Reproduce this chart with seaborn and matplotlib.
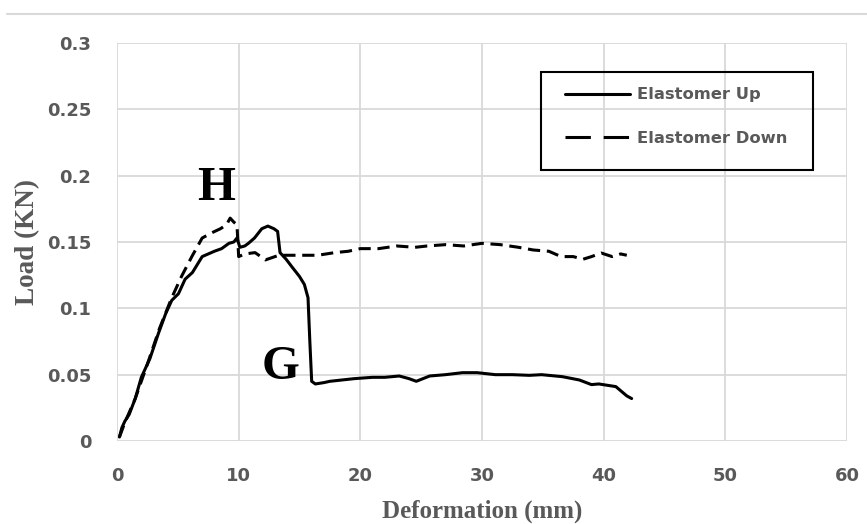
import numpy as np
import pandas as pd
import matplotlib
matplotlib.use("Agg")
import matplotlib.pyplot as plt
import seaborn as sns
from matplotlib.lines import Line2D
from matplotlib.patches import Rectangle

# ---- data ----
up_x = [0.2, 0.4, 0.65, 1.0, 1.5, 2.0, 2.7, 3.4, 4.0, 4.5, 5.05, 5.6, 6.2, 7.0, 7.5, 8.0,
        8.6, 9.2, 9.6, 9.86, 10.1, 10.5, 10.8, 11.3, 11.9, 12.4, 12.9, 13.2, 13.4, 13.9,
        14.4, 15.0, 15.4, 15.7, 15.85, 16.0, 16.3, 17.0, 17.5, 18.5, 19.5, 21.0, 22.0,
        23.2, 24.0, 24.6, 25.7, 27.0, 28.4, 29.6, 31.1, 32.5, 33.9, 34.9, 36.6, 38.0,
        39.0, 39.6, 40.3, 41.0, 41.9, 42.3]
up_y = [0.003, 0.010, 0.015, 0.020, 0.032, 0.048, 0.062, 0.081, 0.096, 0.106, 0.111,
        0.122, 0.127, 0.139, 0.141, 0.143, 0.145, 0.149, 0.150, 0.153, 0.146, 0.147,
        0.149, 0.153, 0.160, 0.162, 0.160, 0.158, 0.142, 0.137, 0.131, 0.124, 0.118,
        0.108, 0.075, 0.045, 0.043, 0.044, 0.045, 0.046, 0.047, 0.048, 0.048, 0.049,
        0.047, 0.045, 0.049, 0.050, 0.0515, 0.0515, 0.050, 0.050, 0.0495, 0.050, 0.0485,
        0.046, 0.0425, 0.043, 0.042, 0.041, 0.034, 0.032]

down_x = [0.2, 0.65, 1.5, 2.5, 3.5, 4.5, 5.3, 6.15, 7.0, 7.8, 8.5, 9.0, 9.3, 9.6, 9.86,
          10.0, 10.5, 11.35, 12.2, 13.3, 14.5, 15.2, 16.5, 17.9, 19.0, 20.0, 21.5, 23.0,
          24.5, 25.5, 27.0, 28.5, 30.0, 31.5, 33.0, 34.2, 35.5, 36.5, 37.5, 38.3, 39.0,
          39.8, 40.7, 41.4, 41.9]
down_y = [0.003, 0.014, 0.032, 0.058, 0.085, 0.108, 0.124, 0.139, 0.153, 0.157, 0.160,
          0.163, 0.168, 0.165, 0.163, 0.139, 0.141, 0.142, 0.1365, 0.140, 0.140, 0.140,
          0.140, 0.142, 0.143, 0.145, 0.145, 0.147, 0.146, 0.147, 0.148, 0.147, 0.149,
          0.148, 0.146, 0.144, 0.143, 0.139, 0.139, 0.137, 0.139, 0.1417, 0.139, 0.141,
          0.140]

series_names = ["Elastomer Up", "Elastomer Down"]
x_ticks = [0, 10, 20, 30, 40, 50, 60]
y_ticks = [0, 0.05, 0.1, 0.15, 0.2, 0.25, 0.3]
y_tick_labels = ["0", "0.05", "0.1", "0.15", "0.2", "0.25", "0.3"]

df = pd.concat([
    pd.DataFrame({"x": up_x, "y": up_y, "s": series_names[0]}),
    pd.DataFrame({"x": down_x, "y": down_y, "s": series_names[1]}),
])

sns.set_theme(style="white")
plt.rcParams["font.family"] = ["DejaVu Sans"]
W, H = 867, 524
fig = plt.figure(figsize=(W / 100, H / 100), dpi=100)
ax = fig.add_axes([117 / W, 1 - 441 / H, 730 / W, 398 / H])

gray_grid = "#d9d9d9"
for t in x_ticks:
    ax.axvline(t, color=gray_grid, lw=1.3, zorder=0)
for t in y_ticks:
    ax.axhline(t, color=gray_grid, lw=1.3, zorder=0)

lw = 2.2
sns.lineplot(data=df[df.s == series_names[0]], x="x", y="y", sort=False, estimator=None,
             color="black", lw=lw, ax=ax, legend=False)
sns.lineplot(data=df[df.s == series_names[1]], x="x", y="y", sort=False, estimator=None,
             color="black", lw=lw, ax=ax, legend=False)
ax.lines[-1].set_dashes([4.0, 2.2])

ax.set_xlim(0, 60)
ax.set_ylim(0, 0.3)
for sp in ax.spines.values():
    sp.set_visible(False)
ax.set_xticks(x_ticks)
ax.set_yticks(y_ticks)
ax.set_yticklabels(y_tick_labels)
tick_col = "#595959"
ax.tick_params(axis="both", length=0, labelsize=13, labelcolor=tick_col)
for lab in ax.get_xticklabels() + ax.get_yticklabels():
    lab.set_fontweight("bold")
ax.tick_params(axis="x", pad=19)
ax.tick_params(axis="y", pad=18.5)

ax.set_xlabel("Deformation (mm)", family="Liberation Serif", fontweight="bold",
              fontsize=18, color=tick_col, labelpad=10)
ax.set_ylabel("Load (KN)", family="Liberation Serif", fontweight="bold",
              fontsize=19.5, color=tick_col, labelpad=5)

ax.text(8.15, 0.191, "H", family="Liberation Serif", fontweight="bold", fontsize=35,
        ha="center", va="center", color="black")
ax.text(13.45, 0.056, "G", family="Liberation Serif", fontweight="bold", fontsize=35,
        ha="center", va="center", color="black")

# legend frame
fig.add_artist(Rectangle((541 / W, 1 - 170 / H), 272 / W, 98 / H, transform=fig.transFigure,
                         fill=False, edgecolor="black", lw=1.5, zorder=5))
handles = [Line2D([], [], color="black", lw=lw),
           Line2D([], [], color="black", lw=lw, dashes=[8.3, 4.2])]
leg = ax.legend(handles, series_names, loc="upper left",
                bbox_to_anchor=(565 / W, 1 - 87.5 / H), bbox_transform=fig.transFigure,
                frameon=False, handlelength=3.96, borderpad=0, labelspacing=1.75,
                handletextpad=0.43, borderaxespad=0,
                prop={"family": "DejaVu Sans", "weight": "bold", "size": 11.8})
for t in leg.get_texts():
    t.set_color(tick_col)

fig.add_artist(Line2D([7 / W, 1.0], [1 - 14 / H, 1 - 14 / H], color="#d9d9d9",
                      lw=1.5, transform=fig.transFigure))

fig.savefig("out.png", dpi=100)
